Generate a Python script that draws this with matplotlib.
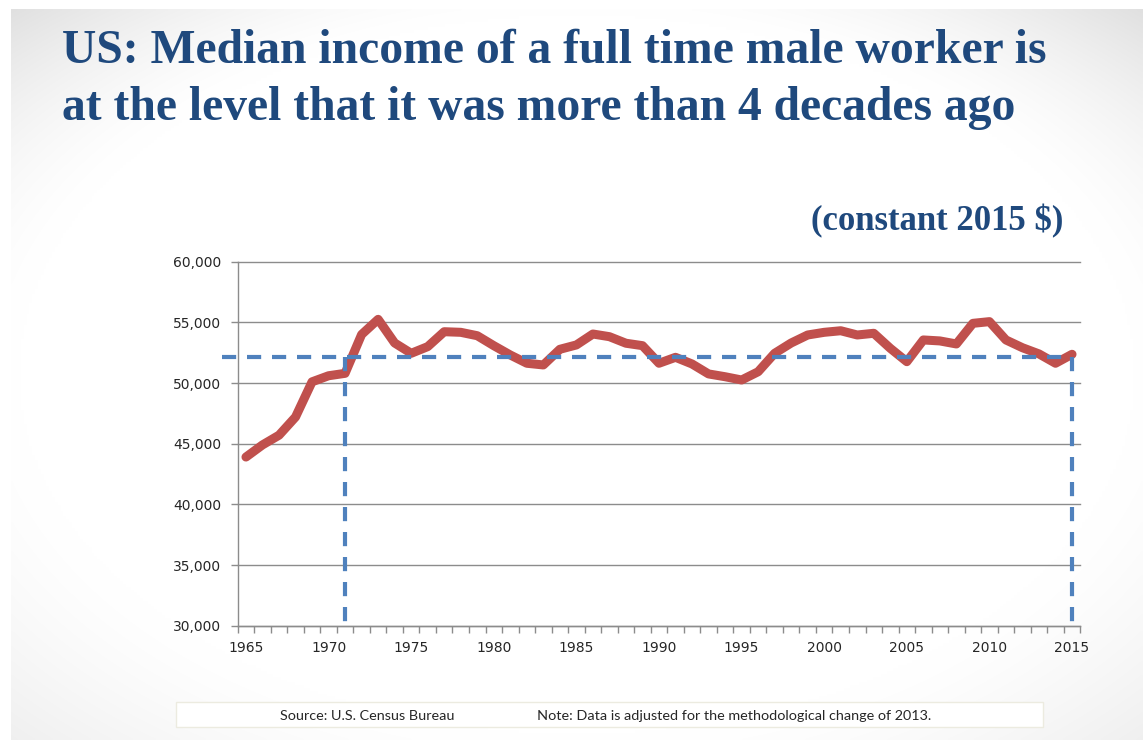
import numpy as np
import matplotlib
matplotlib.use("Agg")
from matplotlib import pyplot as plt
from matplotlib.patches import Rectangle
from matplotlib.ticker import FuncFormatter, MultipleLocator

# data (constant 2015 $)
years = list(range(1965, 2016))
income = [43900, 44900, 45700, 47200, 50100, 50600, 50800, 54000, 55250, 53300,
          52450, 53000, 54230, 54180, 53900, 53080, 52310, 51630, 51490, 52780,
          53140, 54040, 53820, 53280, 53080, 51630, 52120, 51570, 50750, 50520,
          50250, 50930, 52450, 53300, 53960, 54180, 54310, 53960, 54100, 52860,
          51760, 53550, 53470, 53220, 54920, 55060, 53550, 52910, 52400, 51630,
          52370]
ref_level = 52170
ref_years = [1971, 2015]
label_years = list(range(1965, 2016, 5))

title_lines = ["US: Median income of a full time male worker is",
               "at the level that it was more than 4 decades ago"]
subtitle = "(constant 2015 $)"
source_txt = "Source: U.S. Census Bureau"
note_txt = "Note: Data is adjusted for the methodological change of 2013."

W, H = 1143, 740
fig = plt.figure(figsize=(W / 100, H / 100), dpi=100)
fig.patch.set_facecolor("white")

# slide background with soft grey vignette in the corners
bg = fig.add_axes([11 / W, 0, 1 - 11 / W, 1 - 9 / H], zorder=-10)
gx, gy = np.meshgrid(np.linspace(-1, 1, 400), np.linspace(-1, 1, 260))
r = np.sqrt(gx ** 2 + gy ** 2) / np.sqrt(2)
topw = np.clip((gy + 0.2) / 1.2, 0, 1)  # top corners darker than bottom ones
dark = (0.06 + 0.06 * topw) * np.clip((r - 0.7) / 0.3, 0, 1) ** 1.3
shade = 1 - dark
bg.imshow(np.dstack([shade, shade, shade]), aspect="auto", extent=[0, 1, 0, 1],
          interpolation="bilinear", origin="lower")
bg.axis("off")

# titles
title_color = "#1f497d"
for txt, yb in zip(title_lines, [1 - 62.7 / H, 1 - 120 / H]):
    fig.text(62 / W, yb, txt, fontsize=34.3, fontweight="bold", color=title_color,
             family=["Liberation Serif", "DejaVu Serif"], va="baseline", ha="left")
fig.text(1063 / W, 1 - 230 / H, subtitle, fontsize=25, fontweight="bold",
         color=title_color, family=["Liberation Serif", "DejaVu Serif"],
         va="baseline", ha="right")

# main chart
ax = fig.add_axes([237.7 / W, 1 - 625.7 / H, (1080.3 - 237.7) / W, (625.7 - 261.7) / H])
ax.set_facecolor("none")
ax.set_xlim(1964.5, 2015.5)
ax.set_ylim(30000, 60000)
ax.yaxis.set_major_locator(MultipleLocator(5000))
ax.yaxis.set_major_formatter(FuncFormatter(lambda v, p: "{:,.0f}".format(v)))
ax.set_xticks(label_years)
ax.set_xticklabels([str(y) for y in label_years])
ax.set_xticks(np.arange(1964.5, 2016, 1), minor=True)
ax.tick_params(axis="x", which="major", length=0, pad=11)
ax.tick_params(axis="x", which="minor", length=5, color="#8c8c8c", width=1)
ax.tick_params(axis="y", length=5, color="#8c8c8c", width=1, pad=7)
ax.tick_params(labelsize=10, labelcolor="#262626")
for lab in ax.get_xticklabels() + ax.get_yticklabels():
    lab.set_family("DejaVu Sans")
ax.grid(axis="y", color="#8c8c8c", linewidth=1)
for g in ax.get_ygridlines():
    g.set_clip_on(False)
ax.set_axisbelow(True)
for s in ["top", "right"]:
    ax.spines[s].set_visible(False)
for s in ["left", "bottom"]:
    ax.spines[s].set_color("#8c8c8c")
    ax.spines[s].set_linewidth(1)

ax.plot(years, income, color="#c0504d", linewidth=6.5, solid_capstyle="round",
        solid_joinstyle="round", zorder=3)

dash_kw = dict(color="#4f81bd", linewidth=3, dashes=(3.4, 2.6), zorder=4, clip_on=False)
ax.plot([ax.get_xlim()[0] - 0.95, ref_years[1]], [ref_level, ref_level], **dash_kw)
for yr in ref_years:
    ax.plot([yr, yr], [ref_level, ax.get_ylim()[0]], **dash_kw)

# footer box
fig.patches.append(Rectangle((176 / W, 1 - 727.3 / H), (1042.7 - 176) / W, 25 / H,
                             transform=fig.transFigure, facecolor="white",
                             edgecolor="#ecebe0", linewidth=1))
fig.text(367 / W, 1 - 716 / H, source_txt, fontsize=10.4, family=["Lato", "DejaVu Sans"],
         color="#262626", ha="center", va="center")
fig.text(537 / W, 1 - 716 / H, note_txt, fontsize=10.4, family=["Lato", "DejaVu Sans"],
         color="#262626", ha="left", va="center")

fig.savefig("out.png", dpi=100)
